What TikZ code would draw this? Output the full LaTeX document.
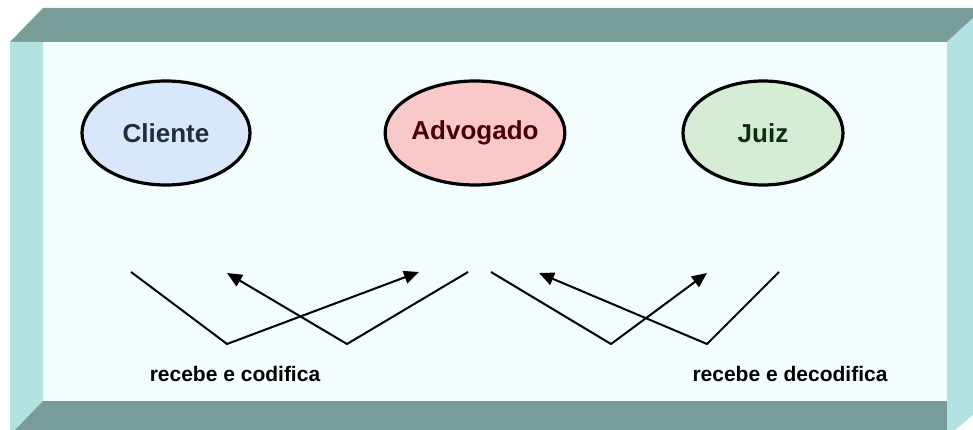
\documentclass[tikz,border=0pt]{standalone}
\usepackage{fontspec}
\setmainfont{Liberation Sans}
\usetikzlibrary{arrows.meta,shapes.geometric}
\definecolor{topface}{HTML}{789C98}
\definecolor{sideface}{HTML}{B2E2E2}
\definecolor{frontface}{HTML}{F3FDFD}
\definecolor{clientefill}{HTML}{D8E8FA}
\definecolor{advfill}{HTML}{F9C8C8}
\definecolor{juizfill}{HTML}{D5EDD5}
\definecolor{clientetext}{HTML}{1F2D3D}
\definecolor{advtext}{HTML}{4A0000}
\definecolor{juiztext}{HTML}{0D2D0D}
\tikzset{
  actor/.style={ellipse, draw=black, line width=3.2pt, minimum width=#1, minimum height=104pt, inner sep=0pt,
    font=\fontsize{26}{30}\selectfont\bfseries},
  flow/.style={line width=2pt, line join=miter, -{Triangle[length=15pt,width=13pt]}},
  caption/.style={font=\fontsize{21}{25}\selectfont\bfseries, text=black}
}
\begin{document}
\begin{tikzpicture}[x=1pt,y=-1pt]
\useasboundingbox (0,0) rectangle (973,430);
% extruded box
\fill[frontface] (43,42) rectangle (947,401);
\fill[topface] (10,42) -- (43,8) -- (973,8) -- (973,18) -- (947,42) -- cycle;
\fill[sideface] (10,42) -- (43,42) -- (43,401) -- (15,430) -- (10,430) -- cycle;
\fill[topface] (15,430) -- (43,401) -- (947,401) -- (947,430) -- cycle;
\fill[sideface] (947,42) -- (973,18) -- (973,415) -- (955,430) -- (947,430) -- cycle;
% parties
\node[actor=168pt, fill=clientefill, text=clientetext] (cliente) at (166,133) {Cliente};
\node[actor=162pt, fill=advfill, text=advtext] (advogado) at (475,133) {Advogado};
\node[actor=160pt, fill=juizfill, text=juiztext] (juiz) at (763,133) {Juiz};
% encoding paths
\coordinate (a1) at (131,272);
\coordinate (a2) at (227,344);
\coordinate (a3) at (419,272);
\coordinate (b1) at (468,272);
\coordinate (b2) at (347,344);
\coordinate (b3) at (227,273);
\draw[flow] (a1) -- (a2) -- (a3);
\draw[flow] (b1) -- (b2) -- (b3);
% decoding paths
\coordinate (c1) at (491,272);
\coordinate (c2) at (611,344);
\coordinate (c3) at (707,273);
\coordinate (d1) at (779,272);
\coordinate (d2) at (707,344);
\coordinate (d3) at (539,273);
\draw[flow] (c1) -- (c2) -- (c3);
\draw[flow] (d1) -- (d2) -- (d3);
% captions
\node[caption] (cod) at (235,374) {recebe e codifica};
\node[caption] (decod) at (790,374) {recebe e decodifica};
\end{tikzpicture}
\end{document}
